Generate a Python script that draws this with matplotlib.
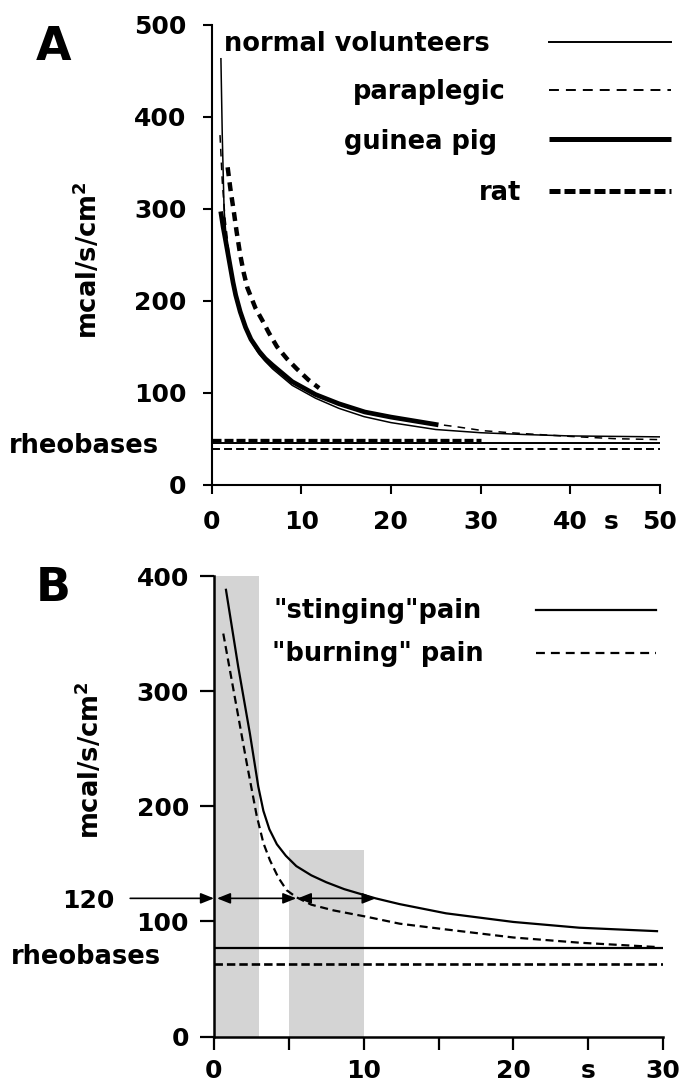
import matplotlib
matplotlib.use("Agg")
import matplotlib.pyplot as plt

W, H = 682, 1085

# ---- panel A: threshold (mcal/s/cm2) vs stimulus duration (s)
normal_t = [1.05, 1.2, 1.4, 1.6, 2.0, 2.4, 2.7, 3.2, 3.8, 4.4, 5.3, 6.0, 6.8, 9.0, 11.6, 14.2, 17, 20, 25, 30, 35, 40, 45, 50]
normal_v = [463, 380, 300, 272, 243, 218, 203, 186, 169, 156, 142, 134, 126, 108, 94, 83, 74, 67.5, 60, 56.5, 54.5, 53, 52.5, 52]

para_t = [0.95, 1.2, 1.5, 2.0, 2.4, 2.7, 3.2, 3.8, 4.4, 5.3, 6.0, 6.8, 9.0, 11.6, 14.2, 17, 20, 25.3, 27.3, 30.3, 33.3, 36, 40, 45, 50]
para_v = [380, 330, 290, 247, 223, 207, 189, 172, 159, 146, 138, 130, 112, 98, 88, 79, 73, 65.5, 63, 58.7, 56.5, 54.8, 52.5, 50, 49]

guinea_t = [1.03, 1.3, 1.6, 2.0, 2.4, 2.7, 3.2, 3.8, 4.4, 5.3, 6.0, 6.8, 9.0, 11.6, 14.2, 17.1, 20, 25.3]
guinea_v = [297, 280, 264, 242, 220, 206, 188, 171, 158, 145, 137, 130, 112, 98, 88, 79, 73.5, 65]

rat_t = [1.8, 2.1, 2.5, 2.8, 3.2, 3.6, 4.0, 4.9, 5.7, 6.4, 7.3, 8.4, 9.5, 10.8, 12.0]
rat_v = [345, 322, 296, 275, 250, 230, 214, 192, 178, 165, 150, 137, 126, 114, 105]

# rheobases: level, end of line (s)
rheo_rat = (48.6, 30)
rheo_normal = (45.7, 50)
rheo_para = (38.8, 50)

a_xticks = [0, 10, 20, 30, 40, 50]
a_yticks = [0, 100, 200, 300, 400, 500]
legend_a = ["normal volunteers", "paraplegic", "guinea pig", "rat"]

# ---- panel B
sting_t = [0.8, 1.62, 2.4, 2.96, 3.3, 3.7, 4.2, 4.8, 5.5, 6.5, 7.5, 8.7, 10.0, 10.8, 12.4, 15.5, 20, 24.4, 29.6]
sting_v = [388, 321, 263, 217, 196, 180, 167, 157, 148, 140, 134, 128, 123, 120, 115, 107, 99.5, 94.5, 91.5]

burn_t = [0.62, 1.4, 2.18, 2.85, 3.3, 3.74, 4.3, 4.86, 5.5, 6.5, 8.0, 10.2, 12.4, 15.5, 20, 24.4, 29.6]
burn_v = [350, 294, 238, 192, 168, 153, 138, 127, 121, 114.5, 109.5, 104, 98, 93, 86, 81.5, 77.7]

rheo_sting = 77
rheo_burn = 63

shade_left = [0, 5]
shade_width = [3, 5]
shade_top = [400, 162]

arrow_level = 120
arrow_spans = [(-5.6, 0), (0.2, 5.5), (5.6, 10.8)]

b_xticks = [0, 5, 10, 15, 20, 25, 30]
b_xlabels = ["0", "", "10", "", "20", "s", "30"]
b_yticks = [0, 100, 200, 300, 400]
legend_b = ['"stinging"pain', '"burning" pain']

plt.rcParams["font.family"] = "DejaVu Sans"
plt.rcParams["font.weight"] = "bold"

FS = 18.5


def fxy(x, y):
    # pixel position in the 682x1085 picture -> figure fraction
    return x / W, 1 - y / H


fig = plt.figure(figsize=(6.82, 10.85), dpi=100)

# ================= panel A =================
axA = fig.add_axes([211.5 / W, 1 - 484.7 / H, 448.5 / W, 460 / H])
axA.plot(normal_t, normal_v, color="k", lw=1.1)
axA.plot(para_t, para_v, color="k", lw=1.1, dashes=(5, 4))
axA.plot(guinea_t, guinea_v, color="k", lw=3.4, solid_capstyle="butt")
axA.plot(rat_t, rat_v, color="k", lw=3.2, dashes=(2.0, 1.4))

axA.hlines(rheo_rat[0], 0, rheo_rat[1], color="k", lw=2.4, linestyles=(0, (2.7, 0.9)))
axA.hlines(rheo_normal[0], 0, rheo_normal[1], color="k", lw=1.4)
axA.hlines(rheo_para[0], 0, rheo_para[1], color="k", lw=1.4, linestyles=(0, (4.1, 2.1)))

axA.set_xlim(0, 50)
axA.set_ylim(0, 500)
axA.set_xticks(a_xticks)
axA.set_yticks(a_yticks)
axA.set_xticks([44.5], ["s"], minor=True)
axA.tick_params(which="major", direction="out", length=6.5, width=1.5,
                labelsize=18, pad=11.5)
axA.tick_params(which="minor", axis="x", length=0, labelsize=18, pad=18)
axA.tick_params(which="minor", axis="y", length=0)
for side in ["top", "right"]:
    axA.spines[side].set_visible(False)
for side in ["left", "bottom"]:
    axA.spines[side].set_linewidth(1.5)

# legend of panel A, drawn by hand at the right
leg_a_y = [41.6, 89.9, 139.2, 191.0]
leg_a_right = [486, 506, 497, 521]
leg_a_style = [dict(lw=1.4), dict(lw=1.4, dashes=(5.1, 3.6)),
               dict(lw=3.6, solid_capstyle="butt"), dict(lw=3.6, dashes=(2.2, 0.8))]
for name, ly, rx, st in zip(legend_a, leg_a_y, leg_a_right, leg_a_style):
    x0, y0 = fxy(549, ly)
    x1, _ = fxy(671, ly)
    axA.plot([x0, x1], [y0, y0], color="k", transform=fig.transFigure, clip_on=False, **st)
    if name == "normal volunteers":
        fig.text(*fxy(224.5, ly + 9.5), name, ha="left", va="baseline", fontsize=FS)
    else:
        fig.text(*fxy(rx, ly + 9.5), name, ha="right", va="baseline", fontsize=FS)

fig.text(*fxy(8.7, 453), "rheobases", ha="left", va="baseline", fontsize=FS)
fig.text(*fxy(88, 260), r"mcal/s/cm$^{\mathbf{2}}$", rotation=90, ha="center", va="center",
         fontsize=FS)
fig.text(*fxy(36, 60), "A", ha="left", va="baseline", fontsize=33)

# ================= panel B =================
axB = fig.add_axes([214 / W, 1 - 1036.5 / H, 449 / W, 460.5 / H])
axB.bar(shade_left, shade_top, width=shade_width, align="edge", color="#d4d4d4",
        edgecolor="none", zorder=0)
axB.plot(sting_t, sting_v, color="k", lw=1.6)
axB.plot(burn_t, burn_v, color="k", lw=1.6, dashes=(3.6, 2.1))
axB.hlines(rheo_sting, 0, 30, color="k", lw=1.6)
axB.hlines(rheo_burn, 0, 30, color="k", lw=1.9, linestyles=(0, (3.2, 1.5)))

for i, (a, b) in enumerate(arrow_spans):
    style = "-|>" if i == 0 else "<|-|>"
    axB.annotate("", xy=(b, arrow_level), xytext=(a, arrow_level),
                 xycoords="data", textcoords="data", annotation_clip=False,
                 arrowprops=dict(arrowstyle=style + ",head_length=0.4,head_width=0.16",
                                 mutation_scale=20, lw=1.2, color="k",
                                 shrinkA=0, shrinkB=0))

axB.set_xlim(0, 30)
axB.set_ylim(0, 400)
axB.set_xticks(b_xticks, b_xlabels)
axB.set_yticks(b_yticks)
axB.tick_params(axis="y", direction="out", length=10, width=1.6, labelsize=18, pad=8)
axB.tick_params(axis="x", direction="out", length=9.5, width=1.6, labelsize=18, pad=7)
for side in ["top", "right"]:
    axB.spines[side].set_visible(False)
for side in ["left", "bottom"]:
    axB.spines[side].set_linewidth(1.8)

leg_b_y = [609.8, 653.0]
leg_b_left = [274, 272]
leg_b_style = [dict(lw=1.6), dict(lw=1.6, dashes=(4.0, 2.7))]
for name, ly, lx, st in zip(legend_b, leg_b_y, leg_b_left, leg_b_style):
    x0, y0 = fxy(536, ly)
    x1, _ = fxy(656, ly)
    axB.plot([x0, x1], [y0, y0], color="k", transform=fig.transFigure, clip_on=False, **st)
    fig.text(*fxy(lx, ly + 8), name, ha="left", va="baseline", fontsize=FS)

fig.text(*fxy(115, 908.5), "120", ha="right", va="baseline", fontsize=18)
fig.text(*fxy(10.4, 964), "rheobases", ha="left", va="baseline", fontsize=FS)
fig.text(*fxy(90, 760), r"mcal/s/cm$^{\mathbf{2}}$", rotation=90, ha="center", va="center",
         fontsize=FS)
fig.text(*fxy(36, 601), "B", ha="left", va="baseline", fontsize=33)

fig.savefig("out.png", dpi=100)
